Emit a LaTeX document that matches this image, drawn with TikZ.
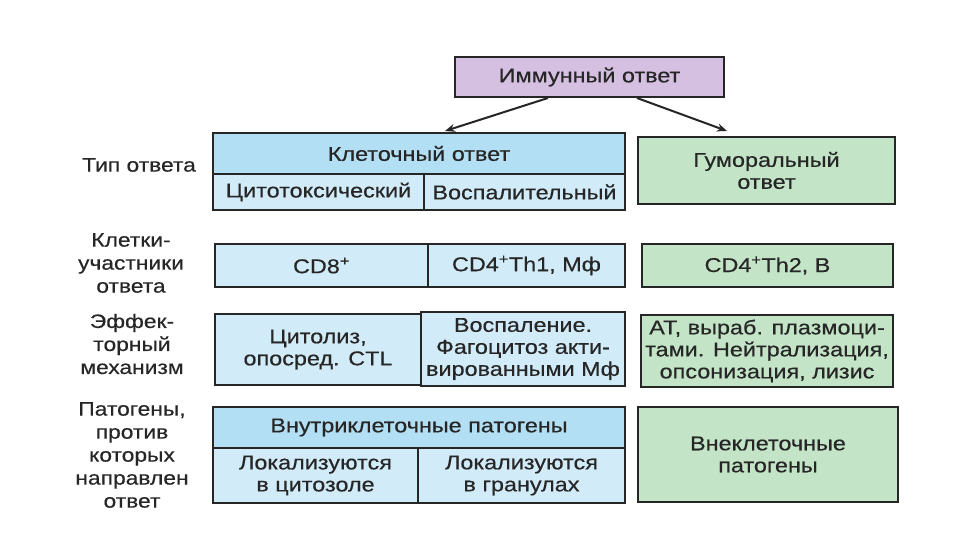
\documentclass[tikz,border=0pt]{standalone}
\usepackage{fontspec}
\setmainfont[FakeStretch=1.17, FakeBold=0.4]{Liberation Sans}
\usetikzlibrary{arrows.meta}

\definecolor{immunefill}{RGB}{213,192,226}
\definecolor{headblue}{RGB}{178,223,244}
\definecolor{cellblue}{RGB}{210,235,248}
\definecolor{humgreen}{RGB}{196,228,199}

\tikzset{
  box/.style={draw=black!85, line width=2pt, align=center, inner sep=0pt,
    font=\fontsize{20}{22}\selectfont, text=black!85},
  sidelabel/.style={align=center, font=\fontsize{19.5}{23}\selectfont, text=black!85},
  arr/.style={-{Stealth[length=10pt,width=8pt]}, line width=2pt, black!85}
}

\begin{document}
\begin{tikzpicture}[x=1pt, y=-1pt]
\useasboundingbox (0,0) rectangle (960,540);
% top
\node[box, fill=immunefill, minimum width=269pt, minimum height=40pt] (immune) at (589.5,77) {Иммунный ответ};
% type of response
\node[box, fill=headblue, minimum width=412pt, minimum height=41pt] (cellresp) at (419,153.5) {Клеточный ответ};
\node[box, fill=cellblue, minimum width=211pt, minimum height=36pt] (cyto) at (318.5,192) {Цитотоксический};
\node[box, fill=cellblue, minimum width=201pt, minimum height=36pt] (infl) at (524.5,192) {Воспалительный};
\node[box, fill=humgreen, minimum width=257pt, minimum height=67pt] (humoral) at (766.5,170.5) {Гуморальный\\ответ};
% cells
\node[box, fill=cellblue, minimum width=213pt, minimum height=43pt] (cdeight) at (321.5,265.5) {CD8\textsuperscript{+}};
\node[box, fill=cellblue, minimum width=197pt, minimum height=43pt] (thone) at (526.5,265.5) {CD4\textsuperscript{+}Th1, Мф};
\node[box, fill=humgreen, minimum width=251pt, minimum height=43pt] (thtwo) at (767.5,265.5) {CD4\textsuperscript{+}Th2, B};
% effector
\node[box, fill=cellblue, minimum width=206pt, minimum height=71pt] (cytolysis) at (318,349.5) {Цитолиз,\\опосред. CTL};
\node[box, fill=cellblue, minimum width=204pt, minimum height=74pt] (phago) at (523,349) {Воспаление.\\Фагоцитоз акти-\\вированными Мф};
\node[box, fill=humgreen, minimum width=252pt, minimum height=72pt] (antibody) at (767,351) {АТ, выраб. плазмоци-\\тами. Нейтрализация,\\опсонизация, лизис};
% pathogens
\node[box, fill=headblue, minimum width=412pt, minimum height=41pt] (intra) at (419,427.5) {Внутриклеточные патогены};
\node[box, fill=cellblue, minimum width=205pt, minimum height=55pt] (cytosol) at (315.5,475.5) {Локализуются\\в цитозоле};
\node[box, fill=cellblue, minimum width=207pt, minimum height=55pt] (granule) at (521.5,475.5) {Локализуются\\в гранулах};
\node[box, fill=humgreen, minimum width=260pt, minimum height=95pt] (extra) at (768,454.5) {Внеклеточные\\патогены};
% row labels
\node[sidelabel] (typelabel) at (139,165) {Тип ответа};
\node[sidelabel] (celllabel) at (131,263) {Клетки-\\участники\\ответа};
\node[sidelabel] (efflabel) at (132,344) {Эффек-\\торный\\механизм};
\node[sidelabel] (pathlabel) at (132,455) {Патогены,\\против\\которых\\направлен\\ответ};
% arrows
\draw[arr] ([xshift=-41.5pt]immune.south) -- ([xshift=26pt, yshift=1pt]cellresp.north);
\draw[arr] ([xshift=47.5pt]immune.south) -- ([xshift=-39.5pt, yshift=5pt]humoral.north);
\end{tikzpicture}
\end{document}
